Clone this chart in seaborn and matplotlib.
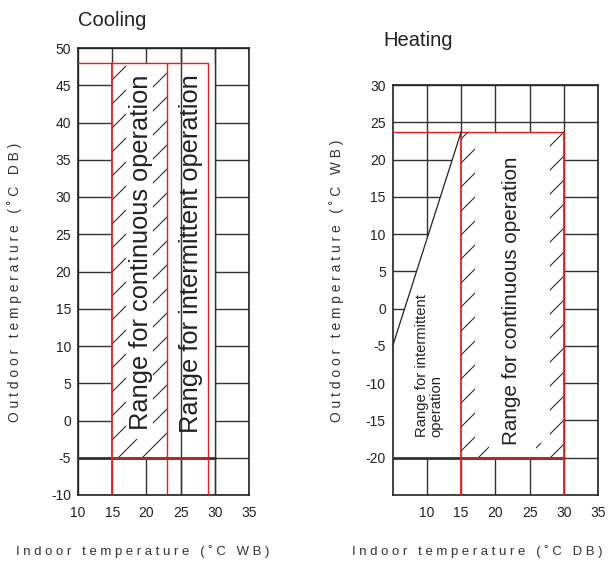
import matplotlib
matplotlib.use("Agg")
import matplotlib.pyplot as plt
from matplotlib import font_manager
import seaborn as sns

# cooling chart (indoor WB vs outdoor DB)
cool_xticks = [10, 15, 20, 25, 30, 35]
cool_yticks = [-10, -5, 0, 5, 10, 15, 20, 25, 30, 35, 40, 45, 50]
cool_xlim = [10, 35]
cool_ylim = [-10, 50]
cool_cont_x = [15, 23]          # continuous operation range
cool_int_x = [15, 29]           # intermittent operation range
cool_out_y = [-5, 48]           # outdoor range
cool_box_x = [15, 30]

# heating chart (indoor DB vs outdoor WB)
heat_xticks = [10, 15, 20, 25, 30, 35]
heat_yticks = [-20, -15, -10, -5, 0, 5, 10, 15, 20, 25, 30]
heat_xlim = [5, 35]
heat_ylim = [-25, 30]
heat_cont_x = [15, 30]
heat_out_y = [-20, 23.7]
heat_diag_x = [5, 15]
heat_diag_y = [-5, 23.7]

DPI = 144
K = 100 / DPI   # sizes below are given as if at 100 dpi

names = {f.name for f in font_manager.fontManager.ttflist}
narrow = "Liberation Sans Narrow" in names

sns.set_theme(style="white")
plt.rcParams["font.family"] = ["Liberation Sans", "DejaVu Sans"]
plt.rcParams["axes.unicode_minus"] = False
plt.rcParams["hatch.linewidth"] = 0.75 * K
NARROW = ["Liberation Sans Narrow", "Liberation Sans", "DejaVu Sans"] if narrow else ["Liberation Sans", "DejaVu Sans"]
nscale = (1.0 if narrow else 0.85) * K

RED = "#ee1c1c"
GRID = "#333333"


def seg(ax, xs, ys, color=RED, lw=1.0, z=3):
    sns.lineplot(x=xs, y=ys, estimator=None, sort=False, color=color,
                 linewidth=lw * K, ax=ax, zorder=z)


def spaced(s):
    return "   ".join(" ".join(w) for w in s.split(" "))


def base(ax, xlim, ylim, xticks, yticks):
    ax.set_xlim(xlim)
    ax.set_ylim(ylim)
    ax.set_xticks(xticks)
    ax.set_yticks(yticks)
    ax.set_axisbelow(True)
    ax.grid(True, color=GRID, linewidth=1.0 * K)
    ax.tick_params(length=0, labelsize=10 * K, colors="#222222")
    ax.tick_params(axis="x", pad=8 * K)
    ax.tick_params(axis="y", pad=5 * K)
    for s in ax.spines.values():
        s.set_visible(True)
        s.set_color("#222222")
        s.set_linewidth(1.2 * K)


def hatch(ax, x0, x1, y0, y1):
    ax.fill_between([x0, x1], y0, y1, facecolor="none", edgecolor="#222222",
                    hatch="//", linewidth=0, zorder=2)


fig = plt.figure(figsize=(609 / DPI, 570 / DPI), dpi=DPI)
ax1 = fig.add_axes([78 / 609, 1 - 495 / 570, 171 / 609, 447 / 570])
ax2 = fig.add_axes([392.7 / 609, 1 - 495 / 570, 205.3 / 609, 410 / 570])

# ---- Cooling ----
base(ax1, cool_xlim, cool_ylim, cool_xticks, cool_yticks)
ax1.fill_between(cool_box_x, cool_out_y[0], cool_out_y[1], color="white", zorder=1, linewidth=0)
for xv in cool_xticks[3:5]:
    ax1.axvline(xv, color=GRID, linewidth=1.0 * K, zorder=1.5)
hatch(ax1, cool_cont_x[0], cool_cont_x[0] + 2, cool_out_y[0], cool_out_y[1])
hatch(ax1, cool_cont_x[1] - 2, cool_cont_x[1], cool_out_y[0], cool_out_y[1])
hatch(ax1, cool_cont_x[0] + 2, cool_cont_x[1] - 2, cool_out_y[0], cool_out_y[0] + 2.5)
seg(ax1, [cool_xlim[0], cool_box_x[1]], [cool_out_y[0]] * 2, color="#333333", lw=2.0)
seg(ax1, [cool_cont_x[0], cool_int_x[1]], [cool_out_y[0]] * 2, color="#b8292b", lw=1.8, z=3.2)
seg(ax1, [cool_xlim[0], cool_int_x[1]], [cool_out_y[1]] * 2)
seg(ax1, [cool_cont_x[0]] * 2, [cool_ylim[0], cool_out_y[1]], lw=1.3)
seg(ax1, [cool_cont_x[1]] * 2, [cool_ylim[0], cool_out_y[1]])
seg(ax1, [cool_int_x[1]] * 2, [cool_ylim[0], cool_out_y[1]])
ax1.text(19.2, 22.6, "Range for continuous operation", rotation=90, ha="center",
         va="center", fontsize=21.5 * nscale, family=NARROW, color="#222222", zorder=4)
ax1.text(26.5, 22.4, "Range for intermittent operation", rotation=90, ha="center",
         va="center", fontsize=21.5 * nscale, family=NARROW, color="#222222", zorder=4)

# ---- Heating ----
base(ax2, heat_xlim, heat_ylim, heat_xticks, heat_yticks)
ax2.fill(heat_diag_x + [heat_cont_x[1]] * 2 + [heat_xlim[0]],
         heat_diag_y + [heat_out_y[1], heat_out_y[0], heat_out_y[0]],
         color="white", zorder=1, linewidth=0)
hatch(ax2, heat_cont_x[0], heat_cont_x[0] + 2, heat_out_y[0], heat_out_y[1])
hatch(ax2, heat_cont_x[1] - 2, heat_cont_x[1], heat_out_y[0], heat_out_y[1])
hatch(ax2, 17, 19, heat_out_y[0], heat_out_y[0] + 2)
hatch(ax2, 26, 28, heat_out_y[0], heat_out_y[0] + 2)
seg(ax2, [heat_xlim[0], heat_cont_x[1]], [heat_out_y[0]] * 2, color="#333333", lw=2.0)
seg(ax2, heat_cont_x, [heat_out_y[0]] * 2, color="#b8292b", lw=1.8, z=3.2)
seg(ax2, [heat_xlim[0], heat_cont_x[1]], [heat_out_y[1]] * 2)
seg(ax2, [heat_cont_x[0]] * 2, [heat_ylim[0], heat_out_y[1]], lw=1.3)
seg(ax2, [heat_cont_x[1]] * 2, [heat_ylim[0], heat_out_y[1]], lw=1.3)
seg(ax2, heat_diag_x, heat_diag_y, color="#222222", lw=0.9)
ax2.text(22.3, 1.0, "Range for continuous operation", rotation=90, ha="center",
         va="center", fontsize=17.5 * nscale, family=NARROW, color="#222222", zorder=4)
ax2.text(10.3, -7.7, "Range for intermittent\noperation", rotation=90, ha="center",
         va="center", multialignment="left", fontsize=12.5 * nscale, family=NARROW,
         color="#222222", zorder=4, linespacing=1.0)

# titles and axis labels
fig.text(112 / 609, 1 - 20 / 570, "Cooling", ha="center", va="center",
         fontsize=17 * nscale, family=NARROW, color="#222222")
fig.text(418 / 609, 1 - 41 / 570, "Heating", ha="center", va="center",
         fontsize=17 * nscale, family=NARROW, color="#222222")
lab = 11.6 * nscale
xlab = 11.1 * nscale
fig.text(15 / 609, 1 - 282 / 570, spaced("Outdoor temperature (˚C DB)"), rotation=90,
         ha="center", va="center", fontsize=lab, family=NARROW, color="#333333")
fig.text(337 / 609, 1 - 281 / 570, spaced("Outdoor temperature (˚C WB)"), rotation=90,
         ha="center", va="center", fontsize=lab, family=NARROW, color="#333333")
fig.text(143 / 609, 1 - 552 / 570, spaced("Indoor temperature (˚C WB)"),
         ha="center", va="center", fontsize=xlab, family=NARROW, color="#333333")
fig.text(477 / 609, 1 - 552 / 570, spaced("Indoor temperature (˚C DB)"),
         ha="center", va="center", fontsize=xlab, family=NARROW, color="#333333")

fig.savefig("out.png", dpi=DPI)
